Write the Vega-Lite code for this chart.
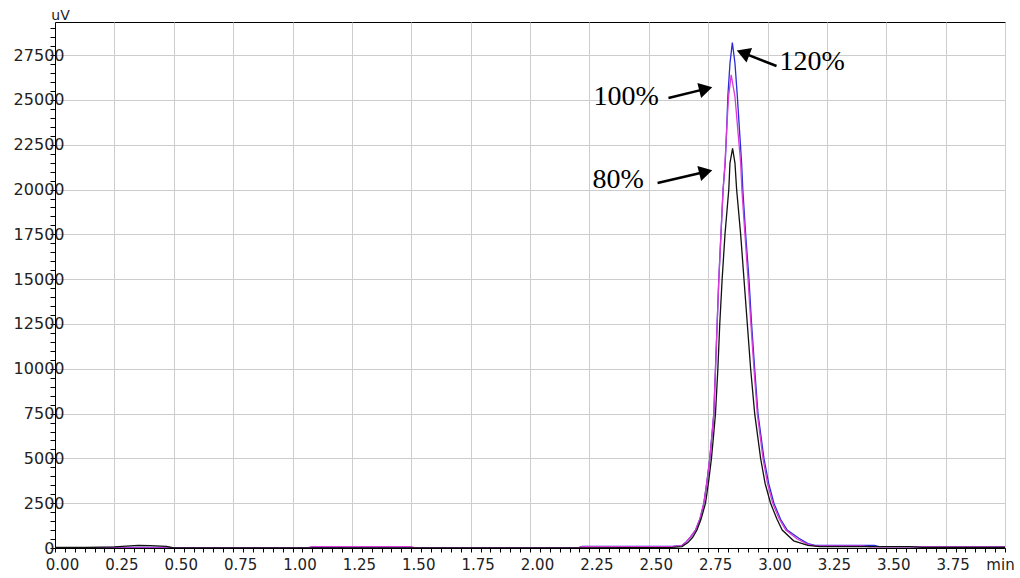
{
  "$schema": "https://vega.github.io/schema/vega-lite/v6.json",
  "width": 950,
  "height": 526,
  "autosize": "none",
  "padding": {"left": 55, "top": 22, "right": 15, "bottom": 30},
  "background": "white",
  "config": {"view": {"stroke": "black", "strokeWidth": 1}, "font": "DejaVu Sans"},
  "datasets": {
    "traces": [
      {"s": "120%", "t": 0, "v": 0}, {"s": "120%", "t": 0.13, "v": 0}, {"s": "120%", "t": 0.25, "v": 30}, {"s": "120%", "t": 0.47, "v": 30}, {"s": "120%", "t": 0.5, "v": 0},
      {"s": "120%", "t": 1.08, "v": 0}, {"s": "120%", "t": 1.1, "v": 40}, {"s": "120%", "t": 1.2, "v": 40}, {"s": "120%", "t": 1.22, "v": 0},
      {"s": "120%", "t": 2.2, "v": 0}, {"s": "120%", "t": 2.22, "v": 90}, {"s": "120%", "t": 2.6, "v": 90}, {"s": "120%", "t": 2.64, "v": 150},
      {"s": "120%", "t": 2.655, "v": 300}, {"s": "120%", "t": 2.675, "v": 600}, {"s": "120%", "t": 2.697, "v": 1000}, {"s": "120%", "t": 2.715, "v": 1600},
      {"s": "120%", "t": 2.732, "v": 2500}, {"s": "120%", "t": 2.745, "v": 3700}, {"s": "120%", "t": 2.757, "v": 5000}, {"s": "120%", "t": 2.766, "v": 6300},
      {"s": "120%", "t": 2.774, "v": 7500}, {"s": "120%", "t": 2.781, "v": 10000}, {"s": "120%", "t": 2.788, "v": 12500}, {"s": "120%", "t": 2.795, "v": 15000},
      {"s": "120%", "t": 2.804, "v": 17500}, {"s": "120%", "t": 2.813, "v": 20000}, {"s": "120%", "t": 2.822, "v": 21480}, {"s": "120%", "t": 2.828, "v": 23330},
      {"s": "120%", "t": 2.833, "v": 25190}, {"s": "120%", "t": 2.842, "v": 27050}, {"s": "120%", "t": 2.852, "v": 28200}, {"s": "120%", "t": 2.863, "v": 27050},
      {"s": "120%", "t": 2.873, "v": 25190}, {"s": "120%", "t": 2.882, "v": 23330}, {"s": "120%", "t": 2.891, "v": 21480}, {"s": "120%", "t": 2.896, "v": 20000},
      {"s": "120%", "t": 2.908, "v": 17500}, {"s": "120%", "t": 2.922, "v": 15000}, {"s": "120%", "t": 2.933, "v": 12500}, {"s": "120%", "t": 2.946, "v": 10000},
      {"s": "120%", "t": 2.96, "v": 7500}, {"s": "120%", "t": 2.985, "v": 5000}, {"s": "120%", "t": 3.005, "v": 3600}, {"s": "120%", "t": 3.027, "v": 2500},
      {"s": "120%", "t": 3.055, "v": 1600}, {"s": "120%", "t": 3.083, "v": 1000}, {"s": "120%", "t": 3.132, "v": 540}, {"s": "120%", "t": 3.17, "v": 250},
      {"s": "120%", "t": 3.2, "v": 150}, {"s": "120%", "t": 3.45, "v": 150}, {"s": "120%", "t": 3.47, "v": 80}, {"s": "120%", "t": 4.0, "v": 60},

      {"s": "100%", "t": 0, "v": 0}, {"s": "100%", "t": 0.13, "v": 0}, {"s": "100%", "t": 0.5, "v": 0}, {"s": "100%", "t": 1.06, "v": 0},
      {"s": "100%", "t": 1.08, "v": 80}, {"s": "100%", "t": 1.5, "v": 80}, {"s": "100%", "t": 1.52, "v": 0}, {"s": "100%", "t": 2.2, "v": 0},
      {"s": "100%", "t": 2.22, "v": 70}, {"s": "100%", "t": 2.6, "v": 80}, {"s": "100%", "t": 2.64, "v": 140}, {"s": "100%", "t": 2.655, "v": 300},
      {"s": "100%", "t": 2.675, "v": 600}, {"s": "100%", "t": 2.697, "v": 1000}, {"s": "100%", "t": 2.715, "v": 1600}, {"s": "100%", "t": 2.732, "v": 2500},
      {"s": "100%", "t": 2.745, "v": 3700}, {"s": "100%", "t": 2.757, "v": 5000}, {"s": "100%", "t": 2.766, "v": 6300}, {"s": "100%", "t": 2.774, "v": 7500},
      {"s": "100%", "t": 2.781, "v": 10000}, {"s": "100%", "t": 2.788, "v": 12500}, {"s": "100%", "t": 2.795, "v": 15000}, {"s": "100%", "t": 2.804, "v": 17500},
      {"s": "100%", "t": 2.813, "v": 20000}, {"s": "100%", "t": 2.821, "v": 21480}, {"s": "100%", "t": 2.828, "v": 23330}, {"s": "100%", "t": 2.836, "v": 25190},
      {"s": "100%", "t": 2.847, "v": 26400}, {"s": "100%", "t": 2.863, "v": 25190}, {"s": "100%", "t": 2.875, "v": 23330}, {"s": "100%", "t": 2.887, "v": 21480},
      {"s": "100%", "t": 2.892, "v": 20000}, {"s": "100%", "t": 2.905, "v": 17500}, {"s": "100%", "t": 2.918, "v": 15000}, {"s": "100%", "t": 2.93, "v": 12500},
      {"s": "100%", "t": 2.943, "v": 10000}, {"s": "100%", "t": 2.957, "v": 7500}, {"s": "100%", "t": 2.981, "v": 5000}, {"s": "100%", "t": 3.0, "v": 3600},
      {"s": "100%", "t": 3.022, "v": 2500}, {"s": "100%", "t": 3.05, "v": 1600}, {"s": "100%", "t": 3.077, "v": 1000}, {"s": "100%", "t": 3.125, "v": 500},
      {"s": "100%", "t": 3.17, "v": 200}, {"s": "100%", "t": 3.2, "v": 120}, {"s": "100%", "t": 3.4, "v": 120}, {"s": "100%", "t": 3.43, "v": 60}, {"s": "100%", "t": 4.0, "v": 60},

      {"s": "80%", "t": 0, "v": 30}, {"s": "80%", "t": 0.13, "v": 30}, {"s": "80%", "t": 0.25, "v": 60}, {"s": "80%", "t": 0.3, "v": 110},
      {"s": "80%", "t": 0.35, "v": 150}, {"s": "80%", "t": 0.4, "v": 130}, {"s": "80%", "t": 0.47, "v": 90}, {"s": "80%", "t": 0.5, "v": 0},
      {"s": "80%", "t": 2.2, "v": 0}, {"s": "80%", "t": 2.6, "v": 40}, {"s": "80%", "t": 2.64, "v": 80}, {"s": "80%", "t": 2.665, "v": 300},
      {"s": "80%", "t": 2.685, "v": 600}, {"s": "80%", "t": 2.703, "v": 1000}, {"s": "80%", "t": 2.72, "v": 1600}, {"s": "80%", "t": 2.739, "v": 2500},
      {"s": "80%", "t": 2.752, "v": 3700}, {"s": "80%", "t": 2.764, "v": 5000}, {"s": "80%", "t": 2.773, "v": 6300}, {"s": "80%", "t": 2.781, "v": 7500},
      {"s": "80%", "t": 2.791, "v": 10000}, {"s": "80%", "t": 2.799, "v": 12500}, {"s": "80%", "t": 2.809, "v": 15000}, {"s": "80%", "t": 2.821, "v": 17500},
      {"s": "80%", "t": 2.837, "v": 20000}, {"s": "80%", "t": 2.842, "v": 21480}, {"s": "80%", "t": 2.853, "v": 22300}, {"s": "80%", "t": 2.863, "v": 21480},
      {"s": "80%", "t": 2.87, "v": 20000}, {"s": "80%", "t": 2.887, "v": 17500}, {"s": "80%", "t": 2.901, "v": 15000}, {"s": "80%", "t": 2.915, "v": 12500},
      {"s": "80%", "t": 2.929, "v": 10000}, {"s": "80%", "t": 2.946, "v": 7500}, {"s": "80%", "t": 2.971, "v": 5000}, {"s": "80%", "t": 2.99, "v": 3600},
      {"s": "80%", "t": 3.013, "v": 2500}, {"s": "80%", "t": 3.04, "v": 1600}, {"s": "80%", "t": 3.062, "v": 1000}, {"s": "80%", "t": 3.11, "v": 400},
      {"s": "80%", "t": 3.17, "v": 150}, {"s": "80%", "t": 3.22, "v": 80}, {"s": "80%", "t": 3.6, "v": 80}, {"s": "80%", "t": 3.65, "v": 40}, {"s": "80%", "t": 4.0, "v": 40}
    ],
    "labels": [
      {"label": "120%", "t": 3.051, "v": 27120},
      {"label": "100%", "t": 2.267, "v": 25140},
      {"label": "80%", "t": 2.263, "v": 20535}
    ],
    "arrows": [
      {"label": "120%", "t": 3.038, "v": 26897, "t2": 2.897, "v2": 27623},
      {"label": "100%", "t": 2.583, "v": 25112, "t2": 2.74, "v2": 25620},
      {"label": "80%", "t": 2.537, "v": 20368, "t2": 2.74, "v2": 20993}
    ]
  },
  "encoding": {
    "x": {
      "field": "t", "type": "quantitative",
      "scale": {"domain": [0, 4], "nice": false, "zero": false},
      "axis": {
        "values": [0, 0.0417, 0.0833, 0.125, 0.1667, 0.2083, 0.25, 0.2917, 0.3333, 0.375, 0.4167, 0.4583, 0.5, 0.5417, 0.5833, 0.625, 0.6667, 0.7083, 0.75, 0.7917, 0.8333, 0.875, 0.9167, 0.9583, 1, 1.0417, 1.0833, 1.125, 1.1667, 1.2083, 1.25, 1.2917, 1.3333, 1.375, 1.4167, 1.4583, 1.5, 1.5417, 1.5833, 1.625, 1.6667, 1.7083, 1.75, 1.7917, 1.8333, 1.875, 1.9167, 1.9583, 2, 2.0417, 2.0833, 2.125, 2.1667, 2.2083, 2.25, 2.2917, 2.3333, 2.375, 2.4167, 2.4583, 2.5, 2.5417, 2.5833, 2.625, 2.6667, 2.7083, 2.75, 2.7917, 2.8333, 2.875, 2.9167, 2.9583, 3, 3.0417, 3.0833, 3.125, 3.1667, 3.2083, 3.25, 3.2917, 3.3333, 3.375, 3.4167, 3.4583, 3.5, 3.5417, 3.5833, 3.625, 3.6667, 3.7083, 3.75, 3.7917, 3.8333, 3.875, 3.9167, 3.9583, 4],
        "labelExpr": "(abs(datum.value*4 - round(datum.value*4)) < 0.01 && datum.value < 3.9) ? format(datum.value, '.2f') : ''",
        "grid": true,
        "gridColor": "#cdcdcd",
        "gridOpacity": {"condition": {"test": "abs(datum.value*4 - round(datum.value*4)) < 0.01", "value": 1}, "value": 0},
        "domainColor": "black",
        "ticks": true,
        "tickColor": "black",
        "tickOpacity": 1,
        "tickWidth": 1,
        "tickSize": 4,
        "labelFont": "DejaVu Sans",
        "labelFontSize": 15,
        "labelColor": "#222222",
        "labelOffset": 7,
        "labelPadding": 5,
        "labelFlush": false,
        "labelOverlap": false,
        "title": "min",
        "titleX": 945,
        "titleY": 21,
        "titleAlign": "center",
        "titleBaseline": "alphabetic",
        "titleFont": "DejaVu Sans",
        "titleFontSize": 15,
        "titleFontWeight": "normal",
        "titleColor": "#222222"
      }
    },
    "y": {
      "field": "v", "type": "quantitative",
      "scale": {"domain": [0, 29350], "nice": false, "zero": false},
      "axis": {
        "values": [0, 500, 1000, 1500, 2000, 2500, 3000, 3500, 4000, 4500, 5000, 5500, 6000, 6500, 7000, 7500, 8000, 8500, 9000, 9500, 10000, 10500, 11000, 11500, 12000, 12500, 13000, 13500, 14000, 14500, 15000, 15500, 16000, 16500, 17000, 17500, 18000, 18500, 19000, 19500, 20000, 20500, 21000, 21500, 22000, 22500, 23000, 23500, 24000, 24500, 25000, 25500, 26000, 26500, 27000, 27500, 28000, 28500, 29000],
        "labelExpr": "datum.value % 2500 == 0 ? format(datum.value, 'd') : ''",
        "grid": true,
        "gridColor": "#cdcdcd",
        "gridOpacity": {"condition": {"test": "datum.value % 2500 == 0", "value": 1}, "value": 0},
        "domainColor": "black",
        "ticks": true,
        "tickColor": "black",
        "tickOpacity": 1,
        "tickWidth": 1,
        "tickSize": 5,
        "labelFont": "DejaVu Sans",
        "labelFontSize": 16,
        "labelColor": "#222222",
        "labelAlign": "right",
        "labelBaseline": "middle",
        "labelPadding": {"condition": {"test": "datum.value == 0", "value": -4}, "value": -14},
        "labelFlush": false,
        "labelOverlap": false,
        "title": "uV",
        "titleAngle": 0,
        "titleX": 5,
        "titleY": -3,
        "titleAlign": "center",
        "titleBaseline": "alphabetic",
        "titleFont": "DejaVu Sans",
        "titleFontSize": 14,
        "titleFontWeight": "normal",
        "titleColor": "#222222"
      }
    }
  },
  "layer": [
    {
      "data": {"name": "traces"},
      "mark": {"type": "line", "strokeWidth": 1.3, "interpolate": "linear", "clip": true},
      "encoding": {
        "color": {"field": "s", "type": "nominal", "scale": {"domain": ["120%", "100%", "80%"], "range": ["#2a2ad8", "#d93ad9", "#111111"]}, "legend": null},
        "order": {"field": "t", "type": "quantitative"}
      }
    },
    {
      "data": {"name": "arrows"},
      "mark": {"type": "rule", "color": "black", "strokeWidth": 2.5},
      "encoding": {"x2": {"field": "t2"}, "y2": {"field": "v2"}}
    },
    {
      "data": {"name": "arrows"},
      "transform": [{"filter": "datum.label == '120%'"}],
      "mark": {"type": "point", "shape": "triangle-right", "filled": true, "color": "black", "opacity": 1, "size": 240, "angle": 201},
      "encoding": {"x": {"field": "t2", "type": "quantitative"}, "y": {"field": "v2", "type": "quantitative"}}
    },
    {
      "data": {"name": "arrows"},
      "transform": [{"filter": "datum.label != '120%'"}],
      "mark": {"type": "point", "shape": "triangle-right", "filled": true, "color": "black", "opacity": 1, "size": 240, "angle": 346},
      "encoding": {"x": {"field": "t2", "type": "quantitative"}, "y": {"field": "v2", "type": "quantitative"}}
    },
    {
      "data": {"name": "labels"},
      "mark": {"type": "text", "font": "Liberation Serif", "fontSize": 28, "align": "left", "baseline": "middle", "color": "black"},
      "encoding": {"text": {"field": "label"}}
    }
  ]
}
